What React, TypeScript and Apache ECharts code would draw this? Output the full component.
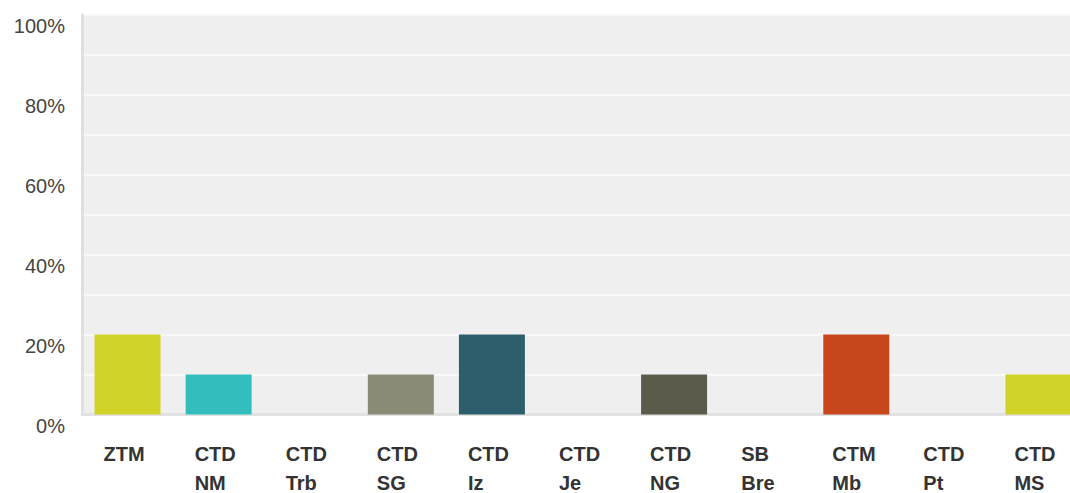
import React, { useEffect, useRef } from "react";
import * as echarts from "echarts";

const categories = ["ZTM", "CTD NM", "CTD Trb", "CTD SG", "CTD Iz", "CTD Je", "CTD NG", "SB Bre", "CTM Mb", "CTD Pt", "CTD MS"];
const values = [20, 10, 0, 10, 20, 0, 10, 0, 20, 0, 10];
const colors = ["#d0d229", "#33bdbd", "#b0b0a0", "#8a8a76", "#2e5e6b", "#999999", "#5c5a4a", "#888888", "#c8461b", "#777777", "#d0d229"];
const yTicks = [0, 20, 40, 60, 80, 100];

export default function App() {
  const ref = useRef<HTMLDivElement>(null);
  useEffect(() => {
    if (!ref.current) return;
    const chart = echarts.init(ref.current, undefined, { renderer: "svg" });
    const font = "'Liberation Sans', Arial, sans-serif";
    chart.setOption({
      animation: false,
      backgroundColor: "#ffffff",
      grid: {
        left: 82,
        top: 15,
        bottom: 78,
        right: 0,
        show: true,
        backgroundColor: "#efefef",
        borderWidth: 0,
      },
      xAxis: {
        type: "category",
        data: categories,
        axisTick: { show: false },
        axisLine: { show: true, lineStyle: { color: "#e2e2e2", width: 3 } },
        axisLabel: {
          interval: 0,
          margin: 25,
          formatter: (v: string) => v.split(" ").map((s) => `{a|${s}}`).join("\n"),
          rich: {
            a: {
              width: 48,
              align: "left",
              fontWeight: "bold",
              fontSize: 20,
              lineHeight: 29,
              color: "#333333",
              fontFamily: font,
            },
          },
        },
      },
      yAxis: {
        type: "value",
        min: 0,
        max: 100,
        interval: 10,
        axisTick: { show: false },
        axisLine: { show: true, lineStyle: { color: "#e0e0e0", width: 3 } },
        splitLine: { show: true, lineStyle: { color: "#f9f9f9", width: 2 } },
        axisLabel: {
          margin: 17,
          fontSize: 20,
          color: "#444444",
          fontFamily: font,
          verticalAlign: "top",
          padding: [1, 0, 0, 0],
          formatter: (v: number) => (yTicks.includes(v) ? `${v}%` : ""),
        },
      },
      series: [
        {
          type: "bar",
          barWidth: 66,
          data: values.map((v, i) => ({ value: v, itemStyle: { color: colors[i] } })),
        },
      ],
    });
    return () => chart.dispose();
  }, []);
  return (
    <div
      ref={ref}
      style={{ position: "fixed", left: 0, top: 0, width: 1084, height: 493 }}
    />
  );
}
